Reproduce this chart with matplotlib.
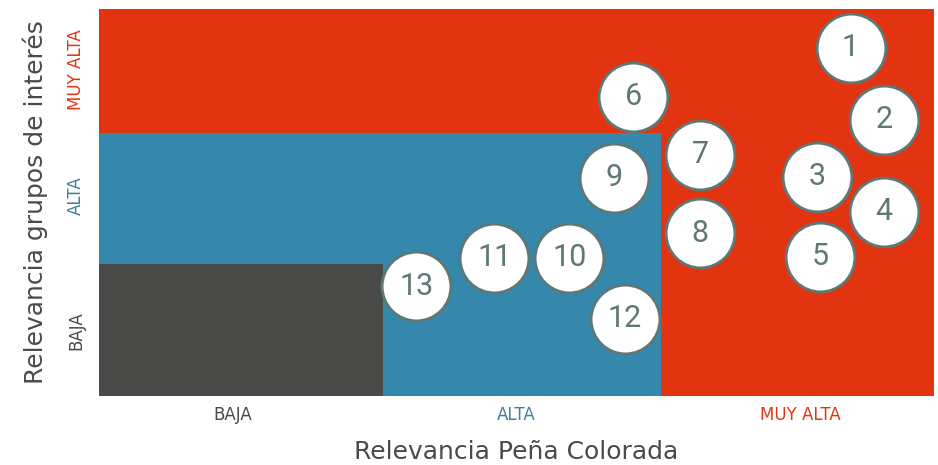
import matplotlib
matplotlib.use("Agg")
import matplotlib.pyplot as plt

# Zones (x extent, y extent in category units 0..3)
zone_names = ["MUY ALTA", "ALTA", "BAJA"]
zone_x_end = [3.0, 2.02, 1.02]
zone_y_end = [3.0, 2.04, 1.02]
zone_colors = ["#E33412", "#3587AB", "#4A4A49"]

# Category tick labels
x_tick_labels = ["BAJA", "ALTA", "MUY ALTA"]
y_tick_labels = ["BAJA", "ALTA", "MUY ALTA"]
tick_colors = ["#4A4A49", "#3F7FA0", "#E33412"]

# Stakeholder points
labels = ["1", "2", "3", "4", "5", "6", "7", "8", "9", "10", "11", "12", "13"]
xs = [2.70, 2.82, 2.58, 2.82, 2.59, 1.92, 2.16, 2.16, 1.85, 1.69, 1.42, 1.89, 1.14]
ys = [2.70, 2.14, 1.70, 1.43, 1.08, 2.32, 1.87, 1.26, 1.69, 1.07, 1.07, 0.60, 0.85]

fig = plt.figure(figsize=(9.38, 4.65), dpi=100)
ax = fig.add_axes([99/938, 69/465, 835/938, 387/465])

for name, xe, ye, c in zip(zone_names, zone_x_end, zone_y_end, zone_colors):
    ax.bar(0, ye, width=xe, align="edge", color=c, edgecolor="none", zorder=1)

edge = "#5E7876"
ax.scatter(xs, ys, s=2450, facecolor="white", edgecolor=edge, linewidth=2, zorder=3)
for lab, x, y in zip(labels, xs, ys):
    ax.text(x, y, lab, ha="center", va="center", fontsize=22, color=edge,
            family="Roboto", zorder=4)

ax.set_xlim(0, 3)
ax.set_ylim(0, 3)
ax.set_xticks([0.48, 1.5, 2.52])
ax.set_xticklabels(x_tick_labels, fontsize=12)
ax.set_yticks([0.51, 1.55, 2.53])
ax.set_yticklabels(y_tick_labels, fontsize=12, rotation=90, va="center")
for t, c in zip(ax.get_xticklabels(), tick_colors):
    t.set_color(c)
for t, c in zip(ax.get_yticklabels(), tick_colors):
    t.set_color(c)
ax.tick_params(length=0)
ax.tick_params(axis="x", pad=7)
ax.tick_params(axis="y", pad=10)
for s in ax.spines.values():
    s.set_visible(False)

ax.set_xlabel("Relevancia Peña Colorada", fontsize=18, color="#4A4A49", labelpad=12)
ax.set_ylabel("Relevancia grupos de interés", fontsize=18, color="#4A4A49", labelpad=14)

fig.savefig("out.png", dpi=100)
